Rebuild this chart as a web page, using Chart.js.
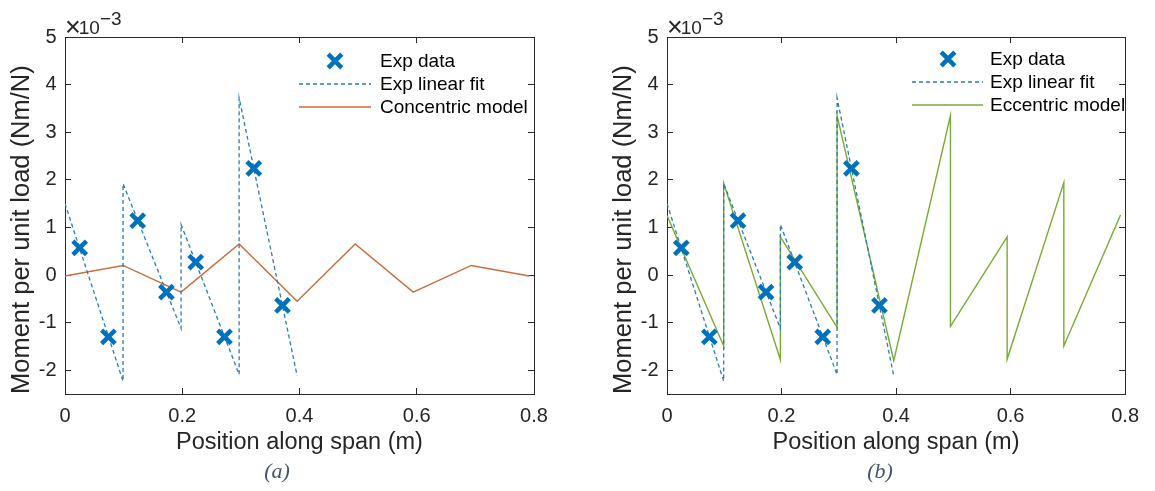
<!DOCTYPE html>
<html><head><meta charset="utf-8">
<script src="https://cdn.jsdelivr.net/npm/chart.js@4/dist/chart.umd.min.js"></script>
<style>
html,body{margin:0;padding:0;background:#fff;width:1155px;height:491px;overflow:hidden;}
#wa{position:absolute;left:0;top:0;width:577px;height:491px;}
#wb{position:absolute;left:602px;top:0;width:553px;height:491px;}
.cap{position:absolute;top:458px;font-family:"Liberation Serif","Times New Roman",serif;font-style:italic;font-size:22px;color:#44546A;transform:translateX(-50%);white-space:nowrap;}
</style></head><body>
<div id="wa"><canvas id="ca" width="577" height="491"></canvas></div>
<div id="wb"><canvas id="cb" width="553" height="491"></canvas></div>
<div class="cap" style="left:277px">(a)</div>
<div class="cap" style="left:880px">(b)</div>
<script>
// values in units of 1e-3 Nm/N
const expX = [0.025, 0.074, 0.124, 0.173, 0.223, 0.272, 0.322, 0.371];
const expY = [0.57, -1.30, 1.14, -0.36, 0.27, -1.30, 2.24, -0.64];
const fitX = [0, 0.099, 0.099, 0.198, 0.198, 0.297, 0.297, 0.396];
const fitY = [1.50, -2.23, 1.92, -1.12, 1.06, -2.09, 3.72, -2.12];
const concX = [0, 0.099, 0.198, 0.297, 0.396, 0.495, 0.594, 0.693, 0.792];
const concY = [-0.02, 0.20, -0.36, 0.65, -0.55, 0.65, -0.36, 0.20, -0.02];
const eccX = [0, 0.099, 0.099, 0.198, 0.198, 0.297, 0.297, 0.396, 0.495, 0.495, 0.594, 0.594, 0.693, 0.693, 0.792];
const eccY = [1.25, -1.49, 1.93, -1.78, 0.80, -1.10, 3.35, -1.80, 3.35, -1.08, 0.80, -1.77, 1.94, -1.49, 1.26];
const xTicks = [0, 0.2, 0.4, 0.6, 0.8];
const xTickLabels = ['0', '0.2', '0.4', '0.6', '0.8'];
const yTicks = [-2, -1, 0, 1, 2, 3, 4, 5];
const yTickLabels = ['-2', '-1', '0', '1', '2', '3', '4', '5'];

const FONT = '"Liberation Sans", Arial, sans-serif';
const TXT = '#262626';
const AX = '#2b2b2b';
const EXP_C = '#0072BD';
const FIT_C = '#2a7db6';
const CONC_C = '#c96d3c';
const ECC_C = '#77AC30';

const pts = (xs, ys) => xs.map((x, i) => ({x: x, y: ys[i]}));

function drawX(ctx, x, y, h, w, color) {
  ctx.save();
  ctx.strokeStyle = color; ctx.lineWidth = w;
  ctx.beginPath();
  ctx.moveTo(x - h, y - h); ctx.lineTo(x + h, y + h);
  ctx.moveTo(x - h, y + h); ctx.lineTo(x + h, y - h);
  ctx.stroke();
  ctx.restore();
}

const legendPlugin = {
  id: 'mlegend',
  afterDraw(chart, args, o) {
    const ctx = chart.ctx;
    const ds = chart.data.datasets;
    ctx.save();
    ctx.font = '19px ' + FONT;
    ctx.fillStyle = '#000';
    ctx.textBaseline = 'middle';
    ctx.textAlign = 'left';
    o.rows.forEach((y, i) => {
      const d = ds[i];
      if (i === 0) {
        drawX(ctx, o.markerX, y, 6.8, 4.5, d.borderColor);
      } else {
        ctx.save();
        ctx.strokeStyle = d.borderColor;
        ctx.lineWidth = d.borderWidth;
        ctx.setLineDash(d.borderDash || []);
        ctx.beginPath(); ctx.moveTo(o.lineX0, y); ctx.lineTo(o.lineX1, y); ctx.stroke();
        ctx.restore();
      }
      ctx.fillText(d.label, o.textX, y + 1);
    });
    // exponent label
    const a = chart.chartArea;
    ctx.fillStyle = TXT;
    ctx.textBaseline = 'alphabetic';
    ctx.font = '27px ' + FONT;
    const t = '\u00d7';
    ctx.fillText(t, a.left, 36);
    let xx = a.left + ctx.measureText(t).width - 2;
    ctx.font = '19px ' + FONT;
    ctx.fillText('10', xx, 34);
    xx += ctx.measureText('10').width;
    ctx.fillText('\u22123', xx, 25);
    ctx.restore();
  }
};

function makeChart(id, modelLabel, mX, mY, mColor, rightW, leg) {
  const tickFont = {family: FONT, size: 20};
  const hiddenAxis = (pos, extra) => Object.assign({
    type: 'linear', position: pos,
    ticks: {display: false},
    grid: {drawOnChartArea: false, drawTicks: true, tickLength: -6, color: AX, lineWidth: 1},
    border: {display: true, color: AX, width: 1}
  }, extra);
  return new Chart(document.getElementById(id), {
    type: 'scatter',
    data: {
      datasets: [
        {label: 'Exp data', data: pts(expX, expY), showLine: false, pointStyle: 'crossRot',
         pointRadius: 9.6, pointBorderWidth: 4.5, borderColor: EXP_C, backgroundColor: EXP_C, order: 0},
        {label: 'Exp linear fit', data: pts(fitX, fitY), showLine: true, pointRadius: 0,
         borderColor: FIT_C, borderWidth: 1.3, borderDash: [4, 3], order: 1},
        {label: modelLabel, data: pts(mX, mY), showLine: true, pointRadius: 0,
         borderColor: mColor, borderWidth: 1.4, order: 2}
      ]
    },
    options: {
      responsive: false, animation: false, devicePixelRatio: 1,
      layout: {padding: 0},
      elements: {line: {tension: 0, fill: false}},
      plugins: {
        legend: {display: false}, tooltip: {enabled: false},
        mlegend: leg
      },
      scales: {
        x: {
          type: 'linear', position: 'bottom', min: 0, max: 0.8,
          afterBuildTicks: s => { s.ticks = xTicks.map(v => ({value: v})); },
          afterFit: s => { s.height = 97; },
          ticks: {callback: (v, i) => xTickLabels[i], font: tickFont, color: TXT, padding: 16, maxRotation: 0, autoSkip: false},
          grid: {drawOnChartArea: false, drawTicks: true, tickLength: -6, color: AX, lineWidth: 1},
          border: {display: true, color: AX, width: 1},
          title: {display: true, text: 'Position along span (m)', color: TXT,
                  font: {family: FONT, size: 23.5}, padding: {top: 0, bottom: 34}}
        },
        y: {
          type: 'linear', position: 'left', min: -2.5, max: 5,
          afterBuildTicks: s => { s.ticks = yTicks.map(v => ({value: v})); },
          afterFit: s => { s.width = 65; },
          ticks: {callback: (v, i) => yTickLabels[i], font: tickFont, color: TXT, padding: 14.5, autoSkip: false},
          grid: {drawOnChartArea: false, drawTicks: true, tickLength: -6, color: AX, lineWidth: 1},
          border: {display: true, color: AX, width: 1},
          title: {display: true, text: 'Moment per unit load (Nm/N)', color: TXT, align: 'start',
                  font: {family: FONT, size: 25.5}, padding: {top: 6.7, bottom: 0}}
        },
        x2: hiddenAxis('top', {min: 0, max: 0.8,
          afterBuildTicks: s => { s.ticks = xTicks.map(v => ({value: v})); },
          afterFit: s => { s.height = 37; }}),
        y2: hiddenAxis('right', {min: -2.5, max: 5,
          afterBuildTicks: s => { s.ticks = yTicks.map(v => ({value: v})); },
          afterFit: s => { s.width = rightW; }})
      }
    },
    plugins: [legendPlugin]
  });
}

makeChart('ca', 'Concentric model', concX, concY, CONC_C, 43,
  {rows: [61, 84, 107], markerX: 335, lineX0: 299, lineX1: 371, textX: 380});
makeChart('cb', 'Eccentric model', eccX, eccY, ECC_C, 19,
  {rows: [59, 82, 105], markerX: 346, lineX0: 310, lineX1: 381, textX: 388});
</script>
</body></html>
